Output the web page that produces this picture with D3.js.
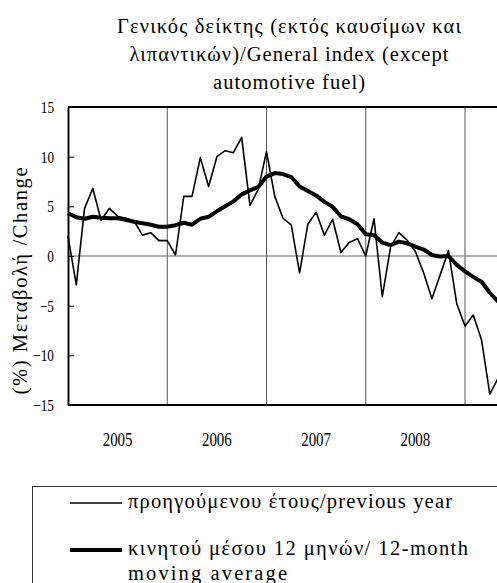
<!DOCTYPE html>
<html>
<head>
<meta charset="utf-8">
<script src="https://d3js.org/d3.v7.min.js"></script>
<style>
  body { margin: 0; background: #fff; }
  svg { display: block; }
  text { font-family: "Liberation Serif", "Times New Roman", serif; fill: #000; }
</style>
</head>
<body>
<div id="chart"></div>
<script>
// values, one per month from Jan 2005
var years = ["2005", "2006", "2007", "2008"];
var yTicks = [15, 10, 5, 0, -5, -10, -15];
var yoy = [2.0, -2.9, 4.8, 6.8, 3.6, 4.8, 4.0, 3.8, 3.5, 2.1, 2.35, 1.55,
           1.55, 0.1, 6.0, 6.0, 9.9, 7.0, 10.0, 10.6, 10.4, 11.95, 5.1, 6.7,
           10.5, 6.0, 3.8, 3.1, -1.7, 3.2, 4.4, 2.1, 3.7, 0.35, 1.35, 1.75,
           0.0, 3.75, -4.1, 0.9, 2.35, 1.6, 0.45, -1.7, -4.3, -1.9, 0.55, -4.8,
           -7.05, -5.95, -8.45, -13.9, -12.3];
var movingAvg = [4.3, 3.9, 3.75, 3.95, 3.85, 3.8, 3.8, 3.65, 3.45, 3.3, 3.15, 2.95,
                 2.95, 3.1, 3.35, 3.15, 3.75, 3.95, 4.5, 5.0, 5.5, 6.2, 6.6, 6.95,
                 8.0, 8.35, 8.25, 7.95, 7.0, 6.55, 6.1, 5.45, 4.95, 4.0, 3.7, 3.2,
                 2.2, 2.1, 1.35, 1.1, 1.45, 1.28, 0.95, 0.65, 0.1, -0.05, 0.0, -0.9,
                 -1.55, -2.1, -2.6, -3.7, -4.6];
var titleLines = ["Γενικός δείκτης (εκτός καυσίμων και", "λιπαντικών)/General index (except", "automotive fuel)"];
var yTitle = "(%) Μεταβολή  /Change";
var legendItems = ["προηγούμενου έτους/previous year", "κινητού μέσου 12 μηνών/ 12-month", "moving average"];

var W = 497, H = 583;
var plotLeft = 68, plotTop = 107, plotBottom = 405;

var svg = d3.select("#chart").append("svg")
    .attr("width", W).attr("height", H);

// month index -> x ; 48 months span 2005..2008
var x = d3.scaleLinear().domain([0, 48]).range([plotLeft, 465]);
var y = d3.scaleLinear().domain([-15, 15]).range([plotBottom, plotTop]);

// spread text to a measured width
function fit(sel, w) {
  sel.attr("textLength", w).attr("lengthAdjust", "spacing");
}
// condensed labels
function squeeze(sel, k) {
  sel.each(function () {
    var len = this.getComputedTextLength();
    d3.select(this).attr("textLength", len * k).attr("lengthAdjust", "spacingAndGlyphs");
  });
}

// title
var titleW = [344, 319, 152];
titleLines.forEach(function (t, i) {
  svg.append("text")
    .attr("x", 289).attr("y", 33 + i * 28)
    .attr("text-anchor", "middle")
    .attr("font-size", 20.5)
    .text(t)
    .call(fit, titleW[i]);
});

// vertical year lines
svg.append("g").selectAll("line")
  .data([12, 24, 36, 48])
  .enter().append("line")
  .attr("x1", function (d) { return x(d); })
  .attr("x2", function (d) { return x(d); })
  .attr("y1", plotTop).attr("y2", plotBottom)
  .attr("stroke", "#555").attr("stroke-width", 1);

// zero line
svg.append("line")
  .attr("x1", plotLeft).attr("x2", W)
  .attr("y1", y(0)).attr("y2", y(0))
  .attr("stroke", "#666").attr("stroke-width", 1);

// top and bottom frame
svg.append("line")
  .attr("x1", plotLeft).attr("x2", W).attr("y1", plotTop).attr("y2", plotTop)
  .attr("stroke", "#000").attr("stroke-width", 1.8);
svg.append("line")
  .attr("x1", plotLeft).attr("x2", W).attr("y1", plotBottom).attr("y2", plotBottom)
  .attr("stroke", "#000").attr("stroke-width", 1.8);

// y axis
var yAxis = svg.append("g")
  .attr("transform", "translate(" + plotLeft + ",0)")
  .call(d3.axisLeft(y).tickValues(yTicks).tickSizeInner(-6).tickSizeOuter(0).tickPadding(14));
yAxis.select(".domain").attr("stroke", "#000").attr("stroke-width", 2);
yAxis.selectAll(".tick line").attr("stroke", "#000");
yAxis.selectAll(".tick text")
  .attr("font-size", 17)
  .attr("fill", "#000")
  .call(squeeze, 0.78);

// year labels
svg.append("g").selectAll("text")
  .data(years)
  .enter().append("text")
  .attr("x", function (d, i) { return (x(i * 12) + x(i * 12 + 12)) / 2; })
  .attr("y", 446)
  .attr("text-anchor", "middle")
  .attr("font-size", 18)
  .text(function (d) { return d; })
  .call(squeeze, 0.83);

// y title
svg.append("text")
  .attr("transform", "translate(27,281) rotate(-90)")
  .attr("text-anchor", "middle")
  .attr("font-size", 20.5)
  .text(yTitle)
  .call(fit, 227);

// series
var line = d3.line()
  .x(function (d, i) { return x(i); })
  .y(function (d) { return y(d); });

svg.append("path")
  .datum(yoy)
  .attr("d", line)
  .attr("fill", "none")
  .attr("stroke", "#000")
  .attr("stroke-width", 1.6)
  .attr("stroke-linejoin", "round");

svg.append("path")
  .datum(movingAvg)
  .attr("d", line)
  .attr("fill", "none")
  .attr("stroke", "#000")
  .attr("stroke-width", 4)
  .attr("stroke-linejoin", "round");

// legend
svg.append("rect")
  .attr("x", 32.5).attr("y", 486.5)
  .attr("width", 480).attr("height", 120)
  .attr("fill", "#fff").attr("stroke", "#333").attr("stroke-width", 1);

svg.append("line")
  .attr("x1", 70).attr("x2", 122).attr("y1", 503).attr("y2", 503)
  .attr("stroke", "#000").attr("stroke-width", 1.6);
svg.append("line")
  .attr("x1", 70).attr("x2", 122).attr("y1", 550).attr("y2", 550)
  .attr("stroke", "#000").attr("stroke-width", 4);

var legendW = [324, 340, 159];
var legendY = [508, 555, 580];
legendItems.forEach(function (t, i) {
  svg.append("text")
    .attr("x", 128).attr("y", legendY[i])
    .attr("font-size", 20.5)
    .text(t)
    .call(fit, legendW[i]);
});
</script>
</body>
</html>
